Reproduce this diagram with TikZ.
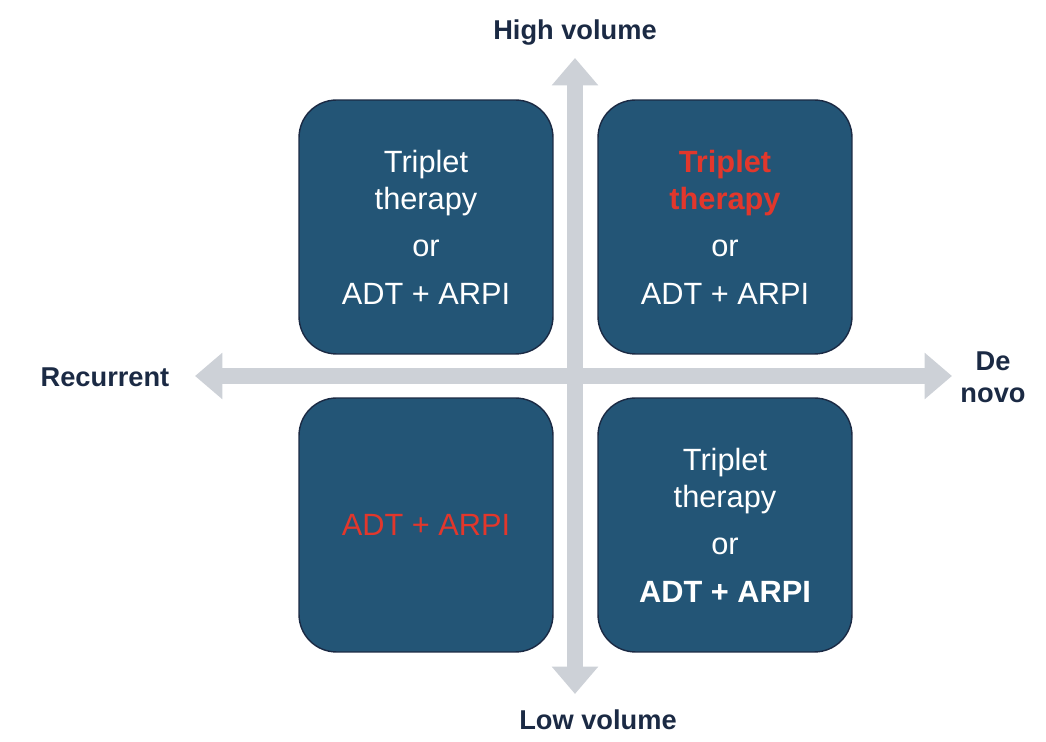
\documentclass[tikz,border=0pt]{standalone}
\usepackage{fontspec}
\setmainfont{Liberation Sans}
\usetikzlibrary{arrows.meta}
\definecolor{boxblue}{HTML}{235576}
\definecolor{axisgrey}{HTML}{CDD1D7}
\definecolor{navy}{HTML}{1B2A44}
\definecolor{hot}{HTML}{E2372C}
\begin{document}
\begin{tikzpicture}[x=0.02cm,y=-0.02cm,
 box/.style={draw=navy,line width=0.8pt,fill=boxblue,rounded corners=0.75cm,minimum width=5.08cm,minimum height=5.08cm,text=white,align=center,font=\fontsize{17.5}{21}\selectfont},
 ax/.style={axisgrey,line width=0.32cm,{Triangle[length=0.55cm,width=0.9cm]}-{Triangle[length=0.55cm,width=0.9cm]}},
 lab/.style={text=navy,font=\bfseries\fontsize{15.5}{18}\selectfont,align=center}]
\useasboundingbox (0,0) rectangle (1046,742);
\coordinate (vt) at (575,58); \coordinate (vb) at (575,694);
\coordinate (hl) at (195,376); \coordinate (hr) at (952,376);
\draw[ax] (vt) -- (vb);
\draw[ax] (hl) -- (hr);
\node[box] (tl) at (426,227) {Triplet\\therapy\\[6pt]or\\[6pt]ADT + ARPI};
\node[box] (tr) at (725,227) {\textcolor{hot}{\bfseries Triplet}\\\textcolor{hot}{\bfseries therapy}\\[6pt]or\\[6pt]ADT + ARPI};
\node[box] (bl) at (426,525) {\textcolor{hot}{ADT + ARPI}};
\node[box] (br) at (725,525) {Triplet\\therapy\\[6pt]or\\[6pt]\bfseries ADT + ARPI};
\node[lab] (hv) at (575,33) {High volume};
\node[lab] (lv) at (598,720) {Low volume};
\node[lab] (rc) at (105,377) {Recurrent};
\node[lab] (dn) at (993,377) {De\\novo};
\end{tikzpicture}
\end{document}
